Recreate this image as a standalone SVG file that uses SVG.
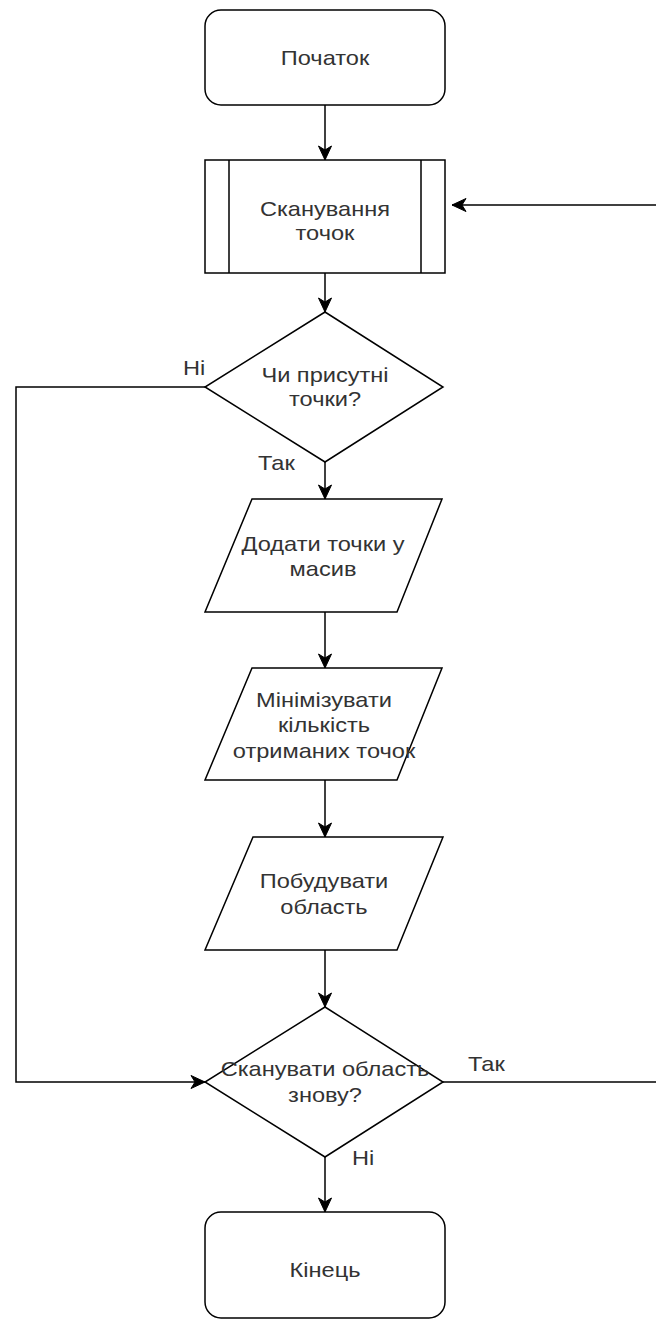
<svg xmlns="http://www.w3.org/2000/svg" width="656" height="1323" viewBox="0 0 656 1323">
<style>
.s{fill:#fff;stroke:#000;stroke-width:1.5}
.t{font-family:"Liberation Sans",Arial,sans-serif;font-size:20px;fill:#333;text-anchor:middle}
.l{font-family:"Liberation Sans",Arial,sans-serif;font-size:20px;fill:#333}
.c{fill:none;stroke:#000;stroke-width:1.5}
</style>
<defs>
<marker id="a" markerUnits="userSpaceOnUse" markerWidth="16" markerHeight="16" viewBox="-1 -8 16 16" refX="14" refY="0" orient="auto">
<path d="M0,-6.5 L14,0 L0,6.5 L4,0 Z" fill="#000" stroke="#000" stroke-width="1"/>
</marker>
</defs>
<g id="connectors">
<path class="c" d="M325,105 V160" marker-end="url(#a)"/>
<path class="c" d="M325,273 V312" marker-end="url(#a)"/>
<path class="c" d="M325,462 V499" marker-end="url(#a)"/>
<path class="c" d="M325,612 V668" marker-end="url(#a)"/>
<path class="c" d="M325,780 V837" marker-end="url(#a)"/>
<path class="c" d="M325,950 V1007" marker-end="url(#a)"/>
<path class="c" d="M325,1157 V1212" marker-end="url(#a)"/>
<path class="c" d="M205,387 H16 V1082 H205" marker-end="url(#a)"/>
<path class="c" d="M443,1082 H660"/>
<path class="c" d="M660,205 H452" marker-end="url(#a)"/>
<text class="l" transform="translate(183,375) scale(1.18,1)">Ні</text>
<text class="l" transform="translate(258,470) scale(1.18,1)">Так</text>
<text class="l" transform="translate(468,1071) scale(1.18,1)">Так</text>
<text class="l" transform="translate(352,1165) scale(1.18,1)">Ні</text>
</g>
<g id="start">
<rect class="s" x="205" y="10" width="240" height="95" rx="16"/>
<text class="t" transform="translate(325,65) scale(1.18,1)">Початок</text>
</g>
<g id="scan">
<rect class="s" x="205" y="160" width="240" height="113"/>
<path class="c" d="M229,160 V273 M421,160 V273"/>
<text class="t" transform="translate(325,216) scale(1.18,1)">Сканування</text>
<text class="t" transform="translate(325,240) scale(1.18,1)">точок</text>
</g>
<g id="check">
<path class="s" d="M325,312 L443,387 L325,462 L205,387 Z"/>
<text class="t" transform="translate(325,382) scale(1.18,1)">Чи присутні</text>
<text class="t" transform="translate(325,406) scale(1.18,1)">точки?</text>
</g>
<g id="add">
<path class="s" d="M252,499 H442 L397,612 H205 Z"/>
<text class="t" transform="translate(323,551) scale(1.18,1)">Додати точки у</text>
<text class="t" transform="translate(323,576) scale(1.18,1)">масив</text>
</g>
<g id="minimize">
<path class="s" d="M252,668 H442 L397,780 H205 Z"/>
<text class="t" transform="translate(324,707) scale(1.18,1)">Мінімізувати</text>
<text class="t" transform="translate(324,732) scale(1.18,1)">кількість</text>
<text class="t" transform="translate(324,758) scale(1.18,1)">отриманих точок</text>
</g>
<g id="build">
<path class="s" d="M253,837 H443 L397,950 H205 Z"/>
<text class="t" transform="translate(324,888) scale(1.18,1)">Побудувати</text>
<text class="t" transform="translate(324,914) scale(1.18,1)">область</text>
</g>
<g id="again">
<path class="s" d="M325,1007 L443,1082 L325,1157 L205,1082 Z"/>
<text class="t" transform="translate(325,1076) scale(1.18,1)">Сканувати область</text>
<text class="t" transform="translate(325,1102) scale(1.18,1)">знову?</text>
</g>
<g id="end">
<rect class="s" x="205" y="1212" width="240" height="106" rx="16"/>
<text class="t" transform="translate(325,1277) scale(1.18,1)">Кінець</text>
</g>
</svg>
